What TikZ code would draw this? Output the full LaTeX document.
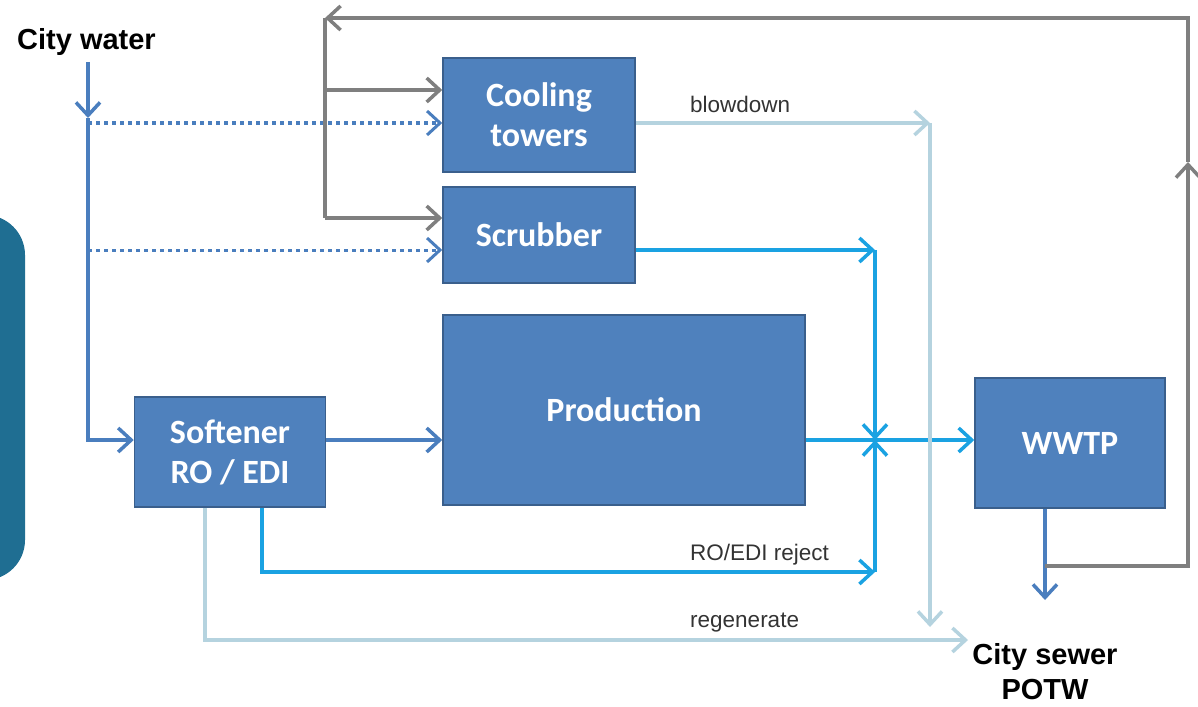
\documentclass[tikz,border=0pt]{standalone}
\usepackage{fontspec}
\setmainfont{Liberation Sans}
\newfontfamily\unitfont{Carlito}
\usetikzlibrary{arrows.meta, positioning, calc}
\definecolor{unitfill}{HTML}{4F81BD}
\definecolor{unitedge}{HTML}{3A5F8C}
\definecolor{waterblue}{HTML}{4A7EBE}
\definecolor{wastecyan}{HTML}{1AA2E2}
\definecolor{wastelight}{HTML}{B5D3DF}
\definecolor{reusegray}{HTML}{7F7F7F}
\definecolor{panelteal}{HTML}{1F6E92}
\tikzset{
  unit/.style={draw=unitedge, fill=unitfill, line width=1.5pt, text=white,
    font=\unitfont\bfseries\fontsize{34}{40}\selectfont, align=center},
  bigtag/.style={font=\bfseries\fontsize{29}{35}\selectfont, align=center, inner sep=0pt},
  smalltag/.style={font=\fontsize{22.5}{26}\selectfont, text=black!80, inner sep=0pt},
  flow/.style={line width=3.5pt, -{Straight Barb[length=13pt, width=24pt]}},
  waterfl/.style={flow, waterblue},
  dotfl/.style={flow, waterblue, line width=3pt, dash pattern=on 4pt off 4pt},
  cyanfl/.style={flow, wastecyan},
  lightfl/.style={flow, wastelight},
  grayfl/.style={flow, reusegray},
}
\begin{document}
\begin{tikzpicture}[x=1pt, y=-1pt]
\useasboundingbox (0,0) rectangle (1198,706);

% side panel
\fill[panelteal, rounded corners=40pt] (-80,215) rectangle (25,580);

% units
\node[unit, minimum width=192pt, minimum height=114pt] (cool) at (539,115) {Cooling\\towers};
\node[unit, minimum width=192pt, minimum height=96pt] (scrub) at (539,235) {Scrubber};
\node[unit, minimum width=362pt, minimum height=190pt] (prod) at (624,410) {Production};
\node[unit, minimum width=191pt, minimum height=110pt] (soft) at (230,452) {Softener\\RO / EDI};
\node[unit, minimum width=190pt, minimum height=130pt] (wwtp) at (1070,443) {WWTP};

\node[bigtag, anchor=west] (city) at (17,42) {City water};
\node[bigtag] (sewer) at (1045,672) {City sewer\\POTW};

% junction points
\coordinate (main) at (0,440);
\coordinate (cw0) at (88,62);
\coordinate (cwa) at (88,118);
\coordinate (cw1) at (88,123);
\coordinate (cw2) at (88,250);
\coordinate (gtop) at (325,18);
\coordinate (g1) at (325,90);
\coordinate (g2) at (325,218);
\coordinate (gup) at (1188,162);
\coordinate (gbot) at (1188,566);
\coordinate (sj) at (875,250);
\coordinate (rj) at (875,572);
\coordinate (bd) at (930,123);
\coordinate (bdend) at (930,627);
\coordinate (rg) at (968,640);
\coordinate (wout) at (1045,600);

% city water
\draw[waterfl] (cw0) -- (cwa);
\draw[waterfl] (cwa) |- (soft.west |- main);
\draw[dotfl] (cw1) -- (cool.west |- cw1);
\draw[dotfl] (cw2) -- (scrub.west |- cw2);
\draw[waterfl] (soft.east |- main) -- (prod.west |- main);

% wastewater
\draw[cyanfl] (scrub.east |- sj) -- (sj);
\draw[cyanfl] (sj) -- (sj |- main);
\draw[cyanfl] ([xshift=32pt]soft.south) |- (rj);
\draw[cyanfl] (rj) -- (rj |- main);
\draw[cyanfl] (prod.east |- main) -- (wwtp.west |- main);
\draw[lightfl] (cool.east |- bd) -- (bd);
\draw[lightfl] (bd) -- (bdend);
\draw[lightfl] ([xshift=-25pt]soft.south) |- (rg);
\node[smalltag, anchor=base west] (blow) at (690,113) {blowdown};
\node[smalltag, anchor=base west] (reject) at (690,560) {RO/EDI reject};
\node[smalltag, anchor=base west] (regen) at (690,627) {regenerate};

% treated water
\draw[waterfl] (wout |- wwtp.south) -- (wout);
\draw[grayfl] (wout |- gbot) -| (gup);
\draw[grayfl] (gup) |- (gtop);
\draw[grayfl, -] (gtop) -- (g2);
\draw[grayfl] (g1) -- (cool.west |- g1);
\draw[grayfl] (g2) -- (scrub.west |- g2);

\end{tikzpicture}
\end{document}
